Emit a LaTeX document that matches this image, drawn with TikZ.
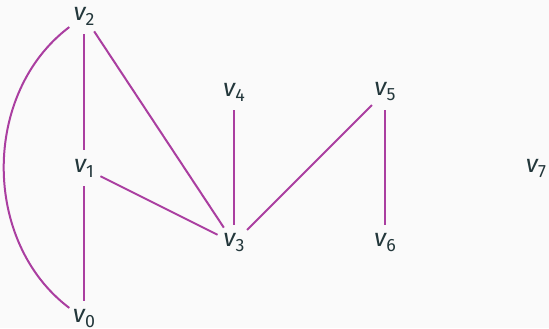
\documentclass[tikz,border=0pt]{standalone}
\usepackage{fontspec}
\setmainfont{Fira Sans}
\definecolor{bgcol}{HTML}{FAFAFA}
\definecolor{txtcol}{HTML}{23373B}
\definecolor{edgecol}{RGB}{170,62,160}
\newcommand{\vlab}[1]{{\itshape v}\raisebox{-0.2em}{\fontsize{8.9}{10}\selectfont #1}}
\tikzset{
  vert/.style={circle, minimum size=18pt, inner sep=0pt, text=txtcol,
    font=\fontsize{12.5}{14}\selectfont},
  edge/.style={draw=edgecol, line width=1pt}
}
\begin{document}
\begin{tikzpicture}[x=0.5pt, y=0.5pt]
  \fill[bgcol] (0,0) rectangle (549,328);
  \useasboundingbox (0,0) rectangle (549,328);
  \node[vert] (v0) at (84,9)    {\vlab{0}};
  \node[vert] (v1) at (84,160)  {\vlab{1}};
  \node[vert] (v2) at (84,312)  {\vlab{2}};
  \node[vert] (v3) at (234,85)  {\vlab{3}};
  \node[vert] (v4) at (234,236) {\vlab{4}};
  \node[vert] (v5) at (385,236) {\vlab{5}};
  \node[vert] (v6) at (385,85)  {\vlab{6}};
  \node[vert] (v7) at (536,160) {\vlab{7}};
  \draw[edge] (v2) to[out=217, in=143] (v0);
  \draw[edge] (v2) -- (v1);
  \draw[edge] (v1) -- (v0);
  \draw[edge] (v2) -- (v3);
  \draw[edge] (v1) -- (v3);
  \draw[edge] (v4) -- (v3);
  \draw[edge] (v5) -- (v3);
  \draw[edge] (v5) -- (v6);
\end{tikzpicture}
\end{document}
